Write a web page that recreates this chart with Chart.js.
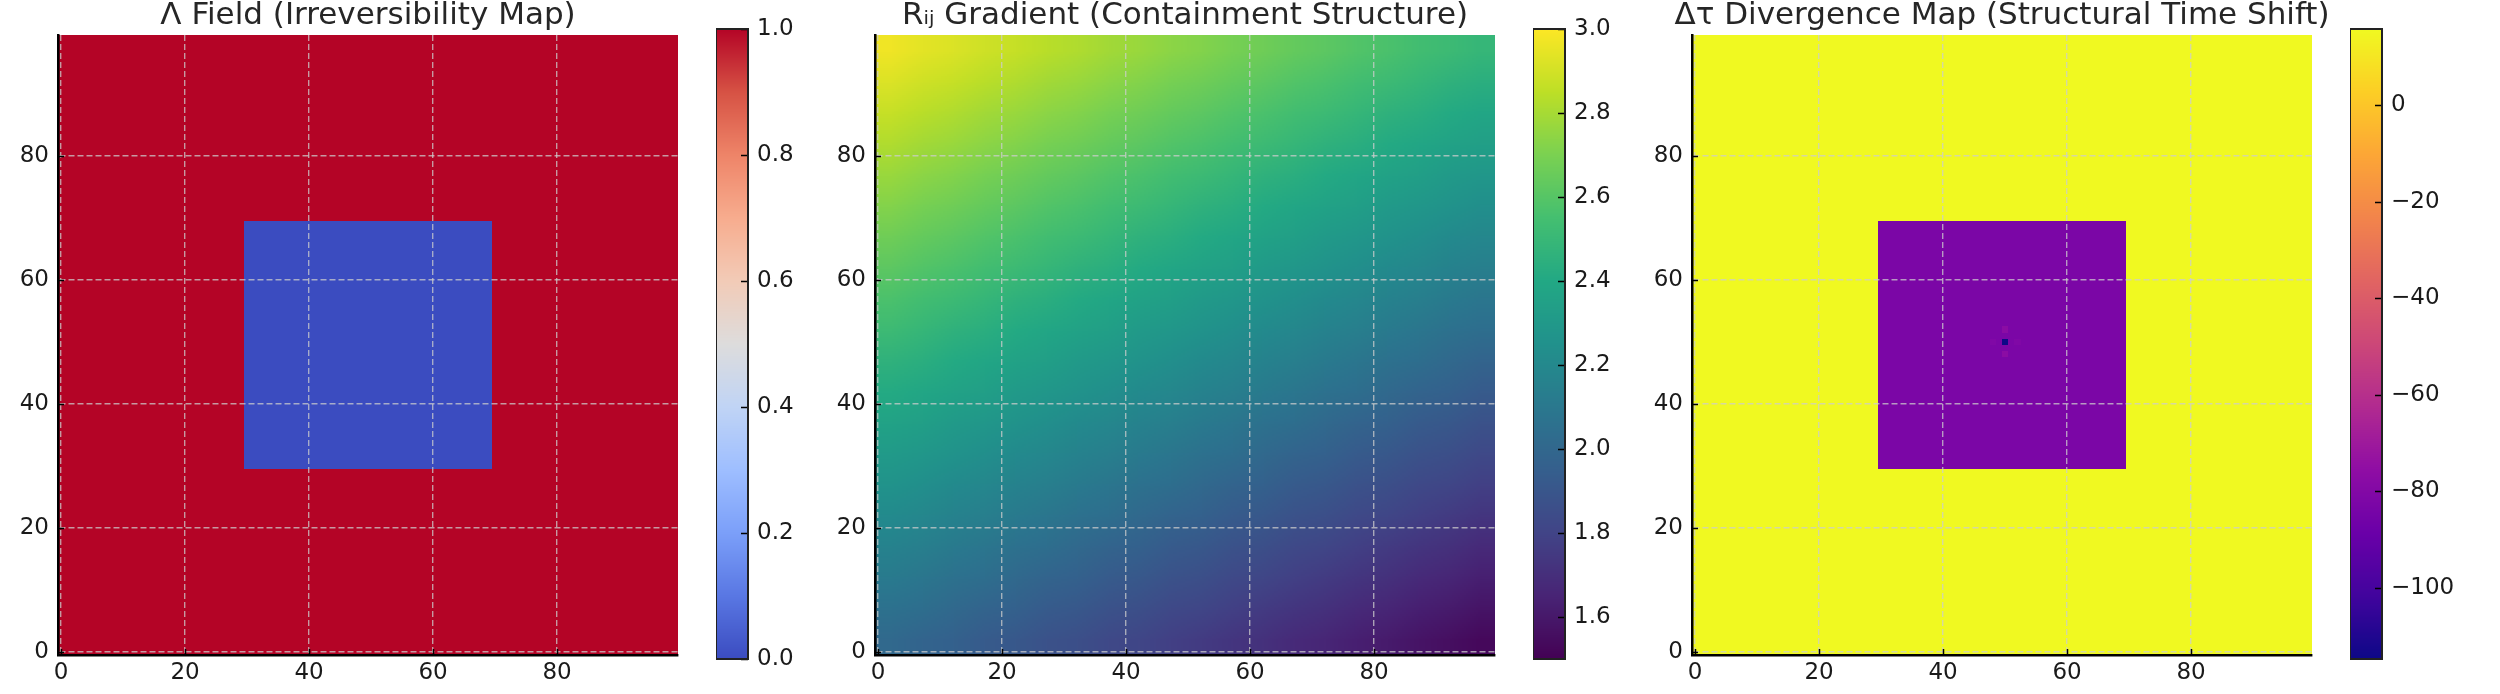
<!DOCTYPE html>
<html lang="en">
<head>
<meta charset="UTF-8">
<title>Λ Field / Rij Gradient / Δτ Divergence</title>
<script src="https://cdn.jsdelivr.net/npm/chart.js"></script>
<style>
  body { margin: 0; background: #fff; }
  #fig { position: relative; width: 2500px; height: 694px; overflow: hidden; background: #fff; }
  canvas { position: absolute; top: 0; }
</style>
</head>
<body>
<div id="fig">
  <canvas id="map1" width="760" height="694"></canvas>
  <canvas id="cb1" width="132" height="694"></canvas>
  <canvas id="map2" width="760" height="694"></canvas>
  <canvas id="cb2" width="132" height="694"></canvas>
  <canvas id="map3" width="760" height="694"></canvas>
  <canvas id="cb3" width="132" height="694"></canvas>
</div>
<script>
// ---- data ----
var gridSize = 100;
var axisTicks = [0, 20, 40, 60, 80];

// Λ field: 1 everywhere, 0 inside a square block
var lambdaOutside = 1;
var lambdaInside = 0;
var lambdaBoxX = [30, 69];
var lambdaBoxY = [30, 69];
var lambdaRange = [0, 1];
var lambdaTicks = [0, 0.2, 0.4, 0.6, 0.8, 1.0];

// Rij gradient, sampled on 5x5 blocks, rows listed top (y=95..99) to bottom (y=0..4)
var rBlock = 5;
var rRows = [
  [2.97, 2.94, 2.92, 2.89, 2.87, 2.84, 2.82, 2.79, 2.77, 2.74, 2.72, 2.69, 2.67, 2.64, 2.62, 2.59, 2.57, 2.54, 2.52, 2.49],
  [2.92, 2.89, 2.87, 2.84, 2.82, 2.79, 2.77, 2.74, 2.72, 2.69, 2.67, 2.64, 2.62, 2.59, 2.57, 2.54, 2.52, 2.49, 2.46, 2.44],
  [2.87, 2.84, 2.82, 2.79, 2.77, 2.74, 2.72, 2.69, 2.67, 2.64, 2.62, 2.59, 2.57, 2.54, 2.52, 2.49, 2.46, 2.44, 2.41, 2.39],
  [2.82, 2.79, 2.77, 2.74, 2.72, 2.69, 2.67, 2.64, 2.62, 2.59, 2.57, 2.54, 2.52, 2.49, 2.46, 2.44, 2.41, 2.39, 2.36, 2.34],
  [2.77, 2.74, 2.72, 2.69, 2.67, 2.64, 2.62, 2.59, 2.57, 2.54, 2.52, 2.49, 2.46, 2.44, 2.41, 2.39, 2.36, 2.34, 2.31, 2.29],
  [2.72, 2.69, 2.67, 2.64, 2.62, 2.59, 2.57, 2.54, 2.52, 2.49, 2.46, 2.44, 2.41, 2.39, 2.36, 2.34, 2.31, 2.29, 2.26, 2.24],
  [2.67, 2.64, 2.62, 2.59, 2.57, 2.54, 2.52, 2.49, 2.46, 2.44, 2.41, 2.39, 2.36, 2.34, 2.31, 2.29, 2.26, 2.24, 2.21, 2.19],
  [2.62, 2.59, 2.57, 2.54, 2.52, 2.49, 2.46, 2.44, 2.41, 2.39, 2.36, 2.34, 2.31, 2.29, 2.26, 2.24, 2.21, 2.19, 2.16, 2.14],
  [2.57, 2.54, 2.52, 2.49, 2.46, 2.44, 2.41, 2.39, 2.36, 2.34, 2.31, 2.29, 2.26, 2.24, 2.21, 2.19, 2.16, 2.14, 2.11, 2.09],
  [2.52, 2.49, 2.46, 2.44, 2.41, 2.39, 2.36, 2.34, 2.31, 2.29, 2.26, 2.24, 2.21, 2.19, 2.16, 2.14, 2.11, 2.09, 2.06, 2.04],
  [2.46, 2.44, 2.41, 2.39, 2.36, 2.34, 2.31, 2.29, 2.26, 2.24, 2.21, 2.19, 2.16, 2.14, 2.11, 2.09, 2.06, 2.04, 2.01, 1.98],
  [2.41, 2.39, 2.36, 2.34, 2.31, 2.29, 2.26, 2.24, 2.21, 2.19, 2.16, 2.14, 2.11, 2.09, 2.06, 2.04, 2.01, 1.98, 1.96, 1.93],
  [2.36, 2.34, 2.31, 2.29, 2.26, 2.24, 2.21, 2.19, 2.16, 2.14, 2.11, 2.09, 2.06, 2.04, 2.01, 1.98, 1.96, 1.93, 1.91, 1.88],
  [2.31, 2.29, 2.26, 2.24, 2.21, 2.19, 2.16, 2.14, 2.11, 2.09, 2.06, 2.04, 2.01, 1.98, 1.96, 1.93, 1.91, 1.88, 1.86, 1.83],
  [2.26, 2.24, 2.21, 2.19, 2.16, 2.14, 2.11, 2.09, 2.06, 2.04, 2.01, 1.98, 1.96, 1.93, 1.91, 1.88, 1.86, 1.83, 1.81, 1.78],
  [2.21, 2.19, 2.16, 2.14, 2.11, 2.09, 2.06, 2.04, 2.01, 1.98, 1.96, 1.93, 1.91, 1.88, 1.86, 1.83, 1.81, 1.78, 1.76, 1.73],
  [2.16, 2.14, 2.11, 2.09, 2.06, 2.04, 2.01, 1.98, 1.96, 1.93, 1.91, 1.88, 1.86, 1.83, 1.81, 1.78, 1.76, 1.73, 1.71, 1.68],
  [2.11, 2.09, 2.06, 2.04, 2.01, 1.98, 1.96, 1.93, 1.91, 1.88, 1.86, 1.83, 1.81, 1.78, 1.76, 1.73, 1.71, 1.68, 1.66, 1.63],
  [2.06, 2.04, 2.01, 1.98, 1.96, 1.93, 1.91, 1.88, 1.86, 1.83, 1.81, 1.78, 1.76, 1.73, 1.71, 1.68, 1.66, 1.63, 1.61, 1.58],
  [2.01, 1.98, 1.96, 1.93, 1.91, 1.88, 1.86, 1.83, 1.81, 1.78, 1.76, 1.73, 1.71, 1.68, 1.66, 1.63, 1.61, 1.58, 1.56, 1.53]
];
var rRange = [1.5, 3.0];
var rTicks = [1.6, 1.8, 2.0, 2.2, 2.4, 2.6, 2.8, 3.0];

// Δτ divergence: flat outside, flat inside the block, a few spots near the centre
var tauOutside = 15.8;
var tauInside = -82.7;
var tauBoxX = [30, 69];
var tauBoxY = [30, 69];
var tauSpotX = [50, 50, 50, 48, 52];
var tauSpotY = [50, 52, 48, 50, 50];
var tauSpotV = [-114.7, -77, -77, -81, -81];
var tauRange = [-114.7, 15.8];
var tauTicks = [-100, -80, -60, -40, -20, 0];

// colormap stops (matplotlib coolwarm / viridis / plasma)
var coolwarm = ['#3b4cc0', '#5977e3', '#7b9ff9', '#9ebeff', '#c0d4f5', '#dddcdc', '#f2cbb7', '#f7ac8e', '#ee8468', '#d65244', '#b40426'];
var viridis = ['#440154', '#482475', '#414487', '#355f8d', '#2a788e', '#21918c', '#22a884', '#44bf70', '#7ad151', '#bddf26', '#fde725'];
var plasma = ['#0d0887', '#41049d', '#6a00a8', '#8f0da4', '#b12a90', '#cc4778', '#e16462', '#f2844b', '#fca636', '#fcce25', '#f0f921'];

var FONT = 'DejaVu Sans';
var TEXT = '#1a1a1a';
var TICK_SIZE = 23;

function hexRgb(h) {
    return [parseInt(h.substr(1, 2), 16), parseInt(h.substr(3, 2), 16), parseInt(h.substr(5, 2), 16)];
}
function colorAt(stops, t) {
    t = Math.max(0, Math.min(1, t));
    var pos = t * (stops.length - 1);
    var i = Math.min(Math.floor(pos), stops.length - 2);
    var f = pos - i;
    var a = hexRgb(stops[i]), b = hexRgb(stops[i + 1]);
    return 'rgb(' + Math.round(a[0] + (b[0] - a[0]) * f) + ',' + Math.round(a[1] + (b[1] - a[1]) * f) + ',' + Math.round(a[2] + (b[2] - a[2]) * f) + ')';
}

// ---- cell tables built from the arrays above ----
function blockField(outside, inside, boxX, boxY) {
    var cells = [];
    for (var j = 0; j < gridSize; j++) {
        for (var i = 0; i < gridSize; i++) {
            var inBox = i >= boxX[0] && i <= boxX[1] && j >= boxY[0] && j <= boxY[1];
            cells.push({ x: i, y: j, v: inBox ? inside : outside });
        }
    }
    return cells;
}
var lambdaCells = blockField(lambdaOutside, lambdaInside, lambdaBoxX, lambdaBoxY);

var tauCells = blockField(tauOutside, tauInside, tauBoxX, tauBoxY);
for (var s = 0; s < tauSpotX.length; s++) {
    tauCells[tauSpotY[s] * gridSize + tauSpotX[s]].v = tauSpotV[s];
}

var rCells = [];
for (var r = 0; r < rRows.length; r++) {
    var row = rRows[rRows.length - 1 - r];   // bottom row first (origin lower)
    for (var c = 0; c < row.length; c++) {
        rCells.push({ x: c * rBlock + (rBlock - 1) / 2, y: r * rBlock + (rBlock - 1) / 2, v: row[c] });
    }
}

// ---- plugins ----
var heatmapPlugin = {
    id: 'heatmap',
    beforeDatasetsDraw: function (chart, args, opts) {
        var ctx = chart.ctx, area = chart.chartArea, xs = chart.scales.x, ys = chart.scales.y;
        var data = chart.data.datasets[0].data;
        var half = opts.cell / 2;
        var cache = {};
        function col(v) {
            if (!cache[v]) cache[v] = colorAt(opts.cmap, (v - opts.vmin) / (opts.vmax - opts.vmin));
            return cache[v];
        }
        ctx.save();
        ctx.beginPath();
        ctx.rect(area.left, area.top, area.right - area.left, area.bottom - area.top);
        ctx.clip();
        if (opts.smooth) {
            // imshow-like bilinear rendering of the block grid
            var n = Math.round(gridSize / opts.cell);
            var off = document.createElement('canvas');
            off.width = n; off.height = n;
            var octx = off.getContext('2d');
            data.forEach(function (p) {
                var ci = Math.round((p.x - (opts.cell - 1) / 2) / opts.cell);
                var ri = Math.round((p.y - (opts.cell - 1) / 2) / opts.cell);
                octx.fillStyle = col(p.v);
                octx.fillRect(ci, n - 1 - ri, 1, 1);
            });
            var l0 = xs.getPixelForValue(-0.5), r0 = xs.getPixelForValue(gridSize - 0.5);
            var t0 = ys.getPixelForValue(gridSize - 0.5), b0 = ys.getPixelForValue(-0.5);
            ctx.imageSmoothingEnabled = true;
            ctx.imageSmoothingQuality = 'low';
            ctx.drawImage(off, l0, t0, r0 - l0, b0 - t0);
        } else {
            data.forEach(function (p) {
                var l = Math.round(xs.getPixelForValue(p.x - half));
                var rr = Math.round(xs.getPixelForValue(p.x + half));
                var t = Math.round(ys.getPixelForValue(p.y + half));
                var b = Math.round(ys.getPixelForValue(p.y - half));
                ctx.fillStyle = col(p.v);
                ctx.fillRect(l, t, rr - l, b - t);
            });
        }
        ctx.restore();
    },
    afterDraw: function (chart) {
        // inward tick marks
        var ctx = chart.ctx, area = chart.chartArea, xs = chart.scales.x, ys = chart.scales.y;
        ctx.save();
        ctx.strokeStyle = '#000';
        ctx.lineWidth = 1.5;
        ctx.beginPath();
        xs.ticks.forEach(function (t) {
            var px = Math.round(xs.getPixelForValue(t.value)) + 0.5;
            ctx.moveTo(px, area.bottom);
            ctx.lineTo(px, area.bottom - 6);
        });
        ys.ticks.forEach(function (t) {
            var py = Math.round(ys.getPixelForValue(t.value)) + 0.5;
            ctx.moveTo(area.left, py);
            ctx.lineTo(area.left + 6, py);
        });
        ctx.stroke();
        ctx.restore();
    }
};

var colorbarPlugin = {
    id: 'colorbar',
    beforeDatasetsDraw: function (chart, args, opts) {
        var ctx = chart.ctx, area = chart.chartArea, ys = chart.scales.y;
        for (var py = Math.floor(area.top); py < area.bottom; py++) {
            var v = ys.getValueForPixel(py + 0.5);
            ctx.fillStyle = colorAt(opts.cmap, (v - ys.min) / (ys.max - ys.min));
            ctx.fillRect(area.left, py, area.right - area.left, 1);
        }
    },
    afterDraw: function (chart) {
        var ctx = chart.ctx, area = chart.chartArea, ys = chart.scales.y;
        ctx.save();
        ctx.strokeStyle = '#000';
        ctx.lineWidth = 1.5;
        ctx.beginPath();
        ys.ticks.forEach(function (t) {
            var py = Math.round(ys.getPixelForValue(t.value)) + 0.5;
            ctx.moveTo(area.right, py);
            ctx.lineTo(area.right - 7, py);
        });
        ctx.stroke();
        ctx.strokeStyle = '#222';
        ctx.lineWidth = 2;
        ctx.strokeRect(area.left, area.top, area.right - area.left, area.bottom - area.top);
        ctx.restore();
    }
};

// ---- charts ----
var plotW = 620, sideW = 70, plotTop = 35, plotBottom = 655;
var plotLefts = [58, 875, 1692];

function axisOpts(isX) {
    return {
        type: 'linear',
        min: -0.5,
        max: gridSize - 0.5,
        afterBuildTicks: function (scale) {
            scale.ticks = axisTicks.map(function (v) { return { value: v }; });
        },
        afterFit: function (scale) {
            if (isX) scale.height = 694 - plotBottom;
            else scale.width = sideW;
        },
        ticks: {
            autoSkip: false,
            maxRotation: 0,
            padding: isX ? 4 : 9,
            color: TEXT,
            z: 2,
            font: { family: FONT, size: TICK_SIZE },
            callback: function (v) { return v; }
        },
        grid: { color: 'rgba(204,204,204,0.75)', lineWidth: 1.4, drawTicks: false, z: 1 },
        border: { color: '#000', width: 2.5, dash: [6, 3], z: 2 }
    };
}

function makeMap(id, idx, title, cells, cell, cmap, range, smooth) {
    var el = document.getElementById(id);
    el.style.left = (plotLefts[idx] - sideW) + 'px';
    return new Chart(el, {
        type: 'scatter',
        data: { datasets: [{ data: cells, pointRadius: 0, pointHoverRadius: 0 }] },
        options: {
            responsive: false,
            animation: false,
            events: [],
            layout: { padding: 0 },
            plugins: {
                legend: { display: false },
                tooltip: { enabled: false },
                title: {
                    display: true,
                    text: title,
                    color: '#262626',
                    font: { family: FONT, size: 31, weight: 'normal', lineHeight: 1 },
                    padding: { top: 0, bottom: plotTop - 31 }
                },
                heatmap: { cmap: cmap, vmin: range[0], vmax: range[1], cell: cell, smooth: !!smooth }
            },
            scales: {
                x: axisOpts(true),
                y: axisOpts(false),
                // empty right-hand strip so the title centres over the plot
                yRight: {
                    position: 'right',
                    display: true,
                    afterFit: function (scale) { scale.width = sideW; },
                    ticks: { display: false },
                    grid: { display: false, drawTicks: false },
                    border: { display: false }
                }
            }
        },
        plugins: [heatmapPlugin]
    });
}

function makeColorbar(id, idx, cmap, range, ticks, fmt) {
    var el = document.getElementById(id);
    el.style.left = (plotLefts[idx] + plotW + 38) + 'px';
    return new Chart(el, {
        type: 'scatter',
        data: { datasets: [{ data: [] }] },
        options: {
            responsive: false,
            animation: false,
            events: [],
            layout: { padding: { left: 0, right: 0, top: 29, bottom: 35 } },
            plugins: {
                legend: { display: false },
                tooltip: { enabled: false },
                colorbar: { cmap: cmap }
            },
            scales: {
                x: { display: false, min: 0, max: 1 },
                y: {
                    position: 'right',
                    min: range[0],
                    max: range[1],
                    afterBuildTicks: function (scale) {
                        scale.ticks = ticks.map(function (v) { return { value: v }; });
                    },
                    afterFit: function (scale) { scale.width = 100; },
                    ticks: {
                        autoSkip: false,
                        padding: 9,
                        color: TEXT,
                        font: { family: FONT, size: TICK_SIZE },
                        callback: fmt
                    },
                    grid: { display: false, drawTicks: false },
                    border: { display: false }
                }
            }
        },
        plugins: [colorbarPlugin]
    });
}

function oneDecimal(v) { return Number(v).toFixed(1); }
function intMinus(v) { return v < 0 ? '\u2212' + Math.abs(v) : String(v); }

makeMap('map1', 0, 'Λ Field (Irreversibility Map)', lambdaCells, 1, coolwarm, lambdaRange);
makeColorbar('cb1', 0, coolwarm, lambdaRange, lambdaTicks, oneDecimal);

makeMap('map2', 1, 'Rᵢⱼ Gradient (Containment Structure)', rCells, rBlock, viridis, rRange, true);
makeColorbar('cb2', 1, viridis, rRange, rTicks, oneDecimal);

makeMap('map3', 2, 'Δτ Divergence Map (Structural Time Shift)', tauCells, 1, plasma, tauRange);
makeColorbar('cb3', 2, plasma, tauRange, tauTicks, intMinus);
</script>
</body>
</html>
